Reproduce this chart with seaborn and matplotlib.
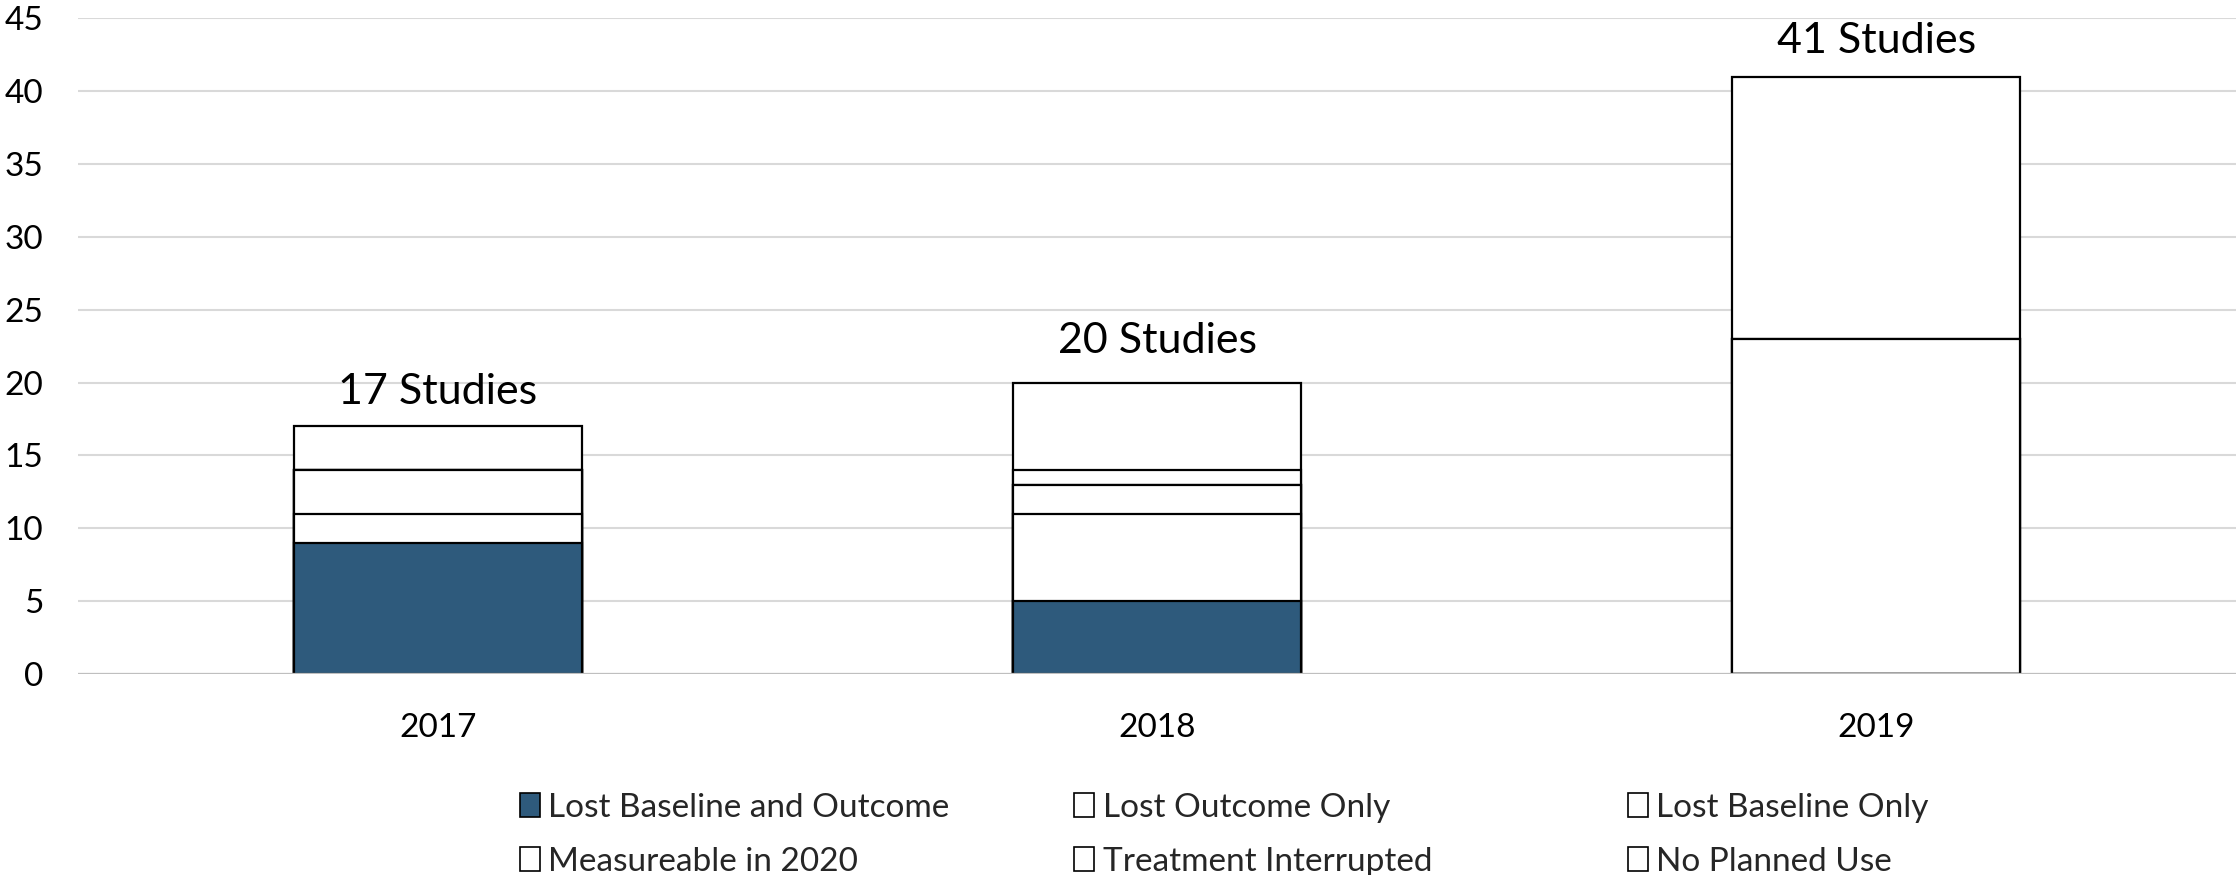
import numpy as np
import pandas as pd
import matplotlib
matplotlib.use("Agg")
import matplotlib.pyplot as plt
from matplotlib.patches import Patch
import seaborn as sns

# Study counts by year and reason category
years = ["2017", "2018", "2019"]
categories = [
    "Lost Baseline and Outcome",
    "Lost Outcome Only",
    "Lost Baseline Only",
    "Measureable in 2020",
    "Treatment Interrupted",
    "No Planned Use",
]
lost_baseline_and_outcome = [9, 5, 0]
lost_outcome_only = [2, 6, 0]
lost_baseline_only = [3, 2, 0]
measureable_2020 = [0, 0, 23]
treatment_interrupted = [0, 1, 0]
no_planned_use = [3, 6, 18]
totals = [17, 20, 41]

series = [
    lost_baseline_and_outcome,
    lost_outcome_only,
    lost_baseline_only,
    measureable_2020,
    treatment_interrupted,
    no_planned_use,
]
fills = ["#2E5A7C", "white", "white", "white", "white", "white"]
label_gap_pts = [16, 21.5, 17]  # space between bar top and total label baseline

sns.set_theme(style="white")
plt.rcParams["font.family"] = ["Lato", "DejaVu Sans"]

fig = plt.figure(figsize=(22.36, 8.75), dpi=100)
ax = fig.add_axes([0.0349, 0.2297, 0.9651, 0.7492])

# Stack by drawing cumulative totals, tallest first
cum = np.cumsum(np.array(series), axis=0)
for i in range(len(categories) - 1, -1, -1):
    df = pd.DataFrame({"year": years, "value": cum[i]})
    sns.barplot(data=df, x="year", y="value", color=fills[i], ax=ax,
                width=0.4, errorbar=None, edgecolor="black", linewidth=1.6,
                saturation=1, zorder=3)

# Total labels above each bar
for xi, t in enumerate(totals):
    ax.annotate(f"{t} Studies", xy=(xi, t), xytext=(0, label_gap_pts[xi]),
                textcoords="offset points", ha="center", va="baseline",
                fontsize=31, color="black")

ax.set_xlim(-0.5, 2.5)
ax.set_ylim(0, 45)
ax.set_yticks(range(0, 46, 5))
ax.grid(axis="y", color="#d9d9d9", linewidth=1.5, zorder=0)
ax.axhline(0, color="#bfbfbf", linewidth=1.6, zorder=5)
ax.set_xlabel("")
ax.set_ylabel("")
for s in ax.spines.values():
    s.set_visible(False)
ax.tick_params(axis="y", length=0, pad=25, labelsize=24, labelcolor="black")
ax.tick_params(axis="x", length=0, pad=28, labelsize=24, labelcolor="black")

# Legend laid out as three fixed columns of two entries
handles = [Patch(facecolor=f, edgecolor="black", linewidth=1.2) for f in fills]
col_x = [0.2325, 0.4805, 0.728]
for c in range(3):
    idx = [c, c + 3]
    fig.legend([handles[i] for i in idx], [categories[i] for i in idx],
               loc="upper left", bbox_to_anchor=(col_x[c], 0.094),
               frameon=False, fontsize=24, handlelength=0.6, handleheight=0.75,
               handletextpad=0.25, labelspacing=0.72, borderpad=0, borderaxespad=0)

fig.savefig("out.png", dpi=100)
